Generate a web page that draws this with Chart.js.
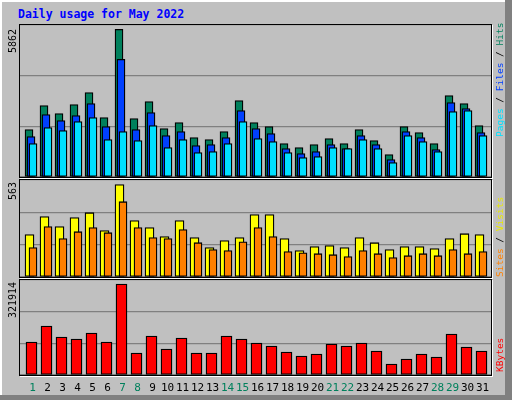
<!DOCTYPE html>
<html><head><meta charset="utf-8">
<script src="https://cdn.jsdelivr.net/npm/chart.js@4/dist/chart.umd.min.js"></script>
<style>
body{margin:0;background:#fff}
#wrap{position:relative;width:512px;height:400px;background:#c0c0c0;overflow:hidden;font-family:"DejaVu Sans Mono",monospace}
.c{position:absolute}
.frame{position:absolute;border:1px solid #000;box-shadow:1px 1px 0 #fff;pointer-events:none}
.lab{position:absolute;white-space:nowrap;transform-origin:0 0;transform:rotate(-90deg);font-size:10px;line-height:12px}
</style></head><body>
<div id="wrap">
<div style="position:absolute;left:0;top:0;width:510px;height:398px;border-left:2px solid #fff;border-top:2px solid #fff;box-sizing:border-box"></div>
<div style="position:absolute;right:0;top:0;width:7px;height:400px;background:#808080"></div>
<div style="position:absolute;left:0;bottom:0;width:512px;height:5px;background:#808080"></div>
<div style="position:absolute;left:18px;top:7px;color:#0000ff;font-weight:bold;font-size:11.5px">Daily usage for May 2022</div>
<div class="c" style="left:20px;top:25px;width:471px;height:152px"><canvas id="c1"></canvas></div>
<div class="c" style="left:20px;top:180px;width:471px;height:97px"><canvas id="c2"></canvas></div>
<div class="c" style="left:20px;top:280px;width:471px;height:115px"><canvas id="c3"></canvas></div>
<div class="frame" style="left:19px;top:24px;width:471px;height:152px"></div>
<div class="frame" style="left:19px;top:179px;width:471px;height:97px"></div>
<div class="frame" style="left:19px;top:279px;width:471px;height:95px"></div>
<div class="lab" style="left:7px;top:53px">5862</div>
<div class="lab" style="left:7px;top:200px">563</div>
<div class="lab" style="left:7px;top:318px">321914</div>
<div class="lab" style="left:494px;top:137px;font-size:9.5px"><span style="color:#00e0ff">Pages</span> / <span style="color:#0040ff">Files</span> / <span style="color:#00805c">Hits</span></div>
<div class="lab" style="left:494px;top:277px;font-size:9.5px"><span style="color:#ff8000">Sites</span> / <span style="color:#e8e800">Visits</span></div>
<div class="lab" style="left:494px;top:372px;font-size:9.5px;color:#ff0000">KBytes</div>
</div>
<script>
const days=[1,2,3,4,5,6,7,8,9,10,11,12,13,14,15,16,17,18,19,20,21,22,23,24,25,26,27,28,29,30,31];
const weekend=[1,7,8,14,15,21,22,28,29];
const hits=[1883,2838,2519,2877,3355,2360,5862,2320,2997,1923,2161,1565,1485,1803,3037,2161,2002,1326,1167,1286,1525,1326,1883,1445,888,2002,1764,1326,3235,2917,2042];
const files=[1604,2480,2241,2440,2917,2002,4668,1883,2559,1644,1803,1246,1286,1565,2639,1923,1724,1127,928,1008,1286,1127,1644,1286,690,1803,1565,1087,2957,2718,1764];
const pages=[1326,1962,1843,2201,2360,1485,1803,1445,2042,1167,1485,968,1008,1326,2201,1525,1406,968,769,809,1167,1127,1485,1127,570,1644,1406,1008,2599,2639,1644];
const visits=[258,368,307,362,392,283,563,344,301,246,344,240,179,222,240,380,380,234,161,185,191,179,240,209,167,185,185,173,234,264,258];
const sites=[179,307,234,276,301,270,459,301,240,234,289,209,167,161,215,301,246,155,148,142,136,124,161,142,118,130,142,130,167,142,155];
const kbytes=[116741,173342,134429,127354,148579,116741,321914,77827,137967,91978,130891,77827,77827,137967,127354,113203,102590,81365,67214,74290,109666,102590,113203,84902,38914,56602,74290,63677,145042,99053,84902];

function pts(a){return a.map((v,i)=>({x:days[i],y:v}));}
function xax(min){return {type:'linear',display:false,offset:false,bounds:'data',min:min,max:min+31.4};}
function yax(step){return {display:true,min:0,max:step*3,ticks:{display:false,stepSize:step},border:{display:false},grid:{color:'#808080',drawTicks:false,lineWidth:1.3},afterFit(s){s.width=0;}};}
function ds(d,c,ax,w){return {data:pts(d),backgroundColor:c,borderColor:'#000',borderWidth:1.3,borderSkipped:false,xAxisID:ax,barThickness:w,grouped:false};}
const base={responsive:true,maintainAspectRatio:false,animation:false,plugins:{legend:{display:false},tooltip:{enabled:false}}};

new Chart(document.getElementById('c1'),{type:'bar',data:{datasets:[ds(pages,'#00e0ff','xp',8),ds(files,'#0040ff','xf',8),ds(hits,'#00805c','xh',8)]},
 options:{...base,layout:{padding:0},scales:{xh:xax(0.4),xf:xax(0.2667),xp:xax(0.1333),y:yax(2011)}}});
new Chart(document.getElementById('c2'),{type:'bar',data:{datasets:[ds(sites,'#ff8000','xs',8),ds(visits,'#ffff00','xv',9)]},
 options:{...base,layout:{padding:0},scales:{xv:xax(0.3667),xs:xax(0.1333),y:yax(197)}}});
new Chart(document.getElementById('c3'),{type:'bar',data:{datasets:[ds(kbytes,'#ff0000','xk',11)]},
 options:{...base,layout:{padding:{bottom:20}},scales:{xk:xax(0.2333),y:yax(112021)}},
 plugins:[{id:'dl',afterDraw(ch){const c=ch.ctx,s=ch.scales.xk;c.save();c.font='11px "DejaVu Sans Mono"';c.textAlign='center';c.textBaseline='middle';
  days.forEach(d=>{c.fillStyle=weekend.includes(d)?'#00805c':'#000';c.fillText(String(d),s.getPixelForValue(d)+1,ch.chartArea.bottom+13);});c.restore();}}]});
</script></body></html>
